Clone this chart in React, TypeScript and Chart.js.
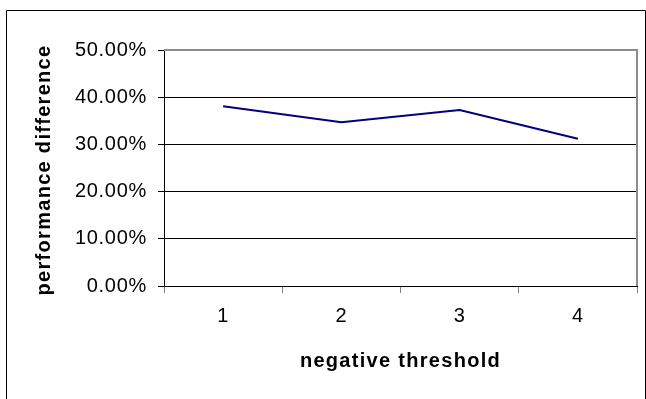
import React, { useEffect, useRef } from "react";
import { Chart, registerables } from "chart.js";

Chart.register(...registerables);

const categories = ["1", "2", "3", "4"];
const performanceDiff = [0.381, 0.347, 0.373, 0.312];
const yTicks = [0, 0.1, 0.2, 0.3, 0.4, 0.5];
const xTitle = "negative threshold";
const yTitle = "performance difference";

const FONT = "'Liberation Sans', Arial, sans-serif";

const framePlugin = {
  id: "frame",
  beforeDraw(chart: any) {
    (chart.ctx as any).letterSpacing = "0.7px";
  },
  afterDraw(chart: any) {
    const ctx = chart.ctx;
    const a = chart.chartArea;
    ctx.save();
    // outer chart border
    ctx.strokeStyle = "#000";
    ctx.lineWidth = 1;
    ctx.beginPath();
    ctx.moveTo(6.5, 399);
    ctx.lineTo(6.5, 10.5);
    ctx.lineTo(645.5, 10.5);
    ctx.lineTo(645.5, 399);
    ctx.stroke();
    // plot area top/right gray border
    ctx.strokeStyle = "#8c8c8c";
    ctx.lineWidth = 2;
    ctx.beginPath();
    ctx.moveTo(a.left, a.top);
    ctx.lineTo(a.right, a.top);
    ctx.lineTo(a.right, a.bottom);
    ctx.stroke();
    // titles
    ctx.fillStyle = "#000";
    ctx.font = "bold 20px " + FONT;
    (ctx as any).letterSpacing = "1.3px";
    ctx.textAlign = "center";
    ctx.textBaseline = "alphabetic";
    ctx.fillText(xTitle, (a.left + a.right) / 2, 367);
    ctx.translate(50, (a.top + a.bottom) / 2 + 2);
    ctx.rotate(-Math.PI / 2);
    ctx.fillText(yTitle, 0, 0);
    ctx.restore();
  },
};

export default function App() {
  const ref = useRef<HTMLCanvasElement | null>(null);
  useEffect(() => {
    if (!ref.current) return;
    const chart = new Chart(ref.current, {
      type: "line",
      data: {
        labels: categories,
        datasets: [
          {
            data: performanceDiff,
            borderColor: "#000080",
            borderWidth: 2,
            pointRadius: 0,
            tension: 0,
            fill: false,
          },
        ],
      },
      options: {
        animation: false,
        responsive: false,
        devicePixelRatio: 1,
        layout: { padding: { top: 50, right: 9, bottom: 0, left: 0 } },
        plugins: { legend: { display: false }, tooltip: { enabled: false } },
        scales: {
          x: {
            type: "category",
            offset: true,
            afterFit(scale: any) {
              scale.height = 113;
            },
            grid: {
              offset: true,
              drawOnChartArea: false,
              drawTicks: true,
              tickLength: 7,
              color: "#808080",
              lineWidth: 1,
            },
            border: { color: "#000", width: 1 },
            ticks: {
              color: "#000",
              font: { family: FONT, size: 20 },
              padding: 11,
              maxRotation: 0,
            },
          },
          y: {
            min: 0,
            max: 0.5,
            afterFit(scale: any) {
              scale.width = 164;
            },
            afterBuildTicks(scale: any) {
              scale.ticks = yTicks.map((v) => ({ value: v }));
            },
            grid: {
              color: "#000",
              lineWidth: 1,
              drawTicks: true,
              tickLength: 6,
            },
            border: { color: "#000", width: 1 },
            ticks: {
              color: "#000",
              font: { family: FONT, size: 20 },
              padding: 11,
              callback: (v: any) => (Number(v) * 100).toFixed(2) + "%",
            },
          },
        },
      },
      plugins: [framePlugin],
    });
    return () => chart.destroy();
  }, []);
  return (
    <div style={{ position: "absolute", left: 0, top: 0, width: 646, height: 399, background: "#fff" }}>
      <canvas ref={ref} width={646} height={399} />
    </div>
  );
}
